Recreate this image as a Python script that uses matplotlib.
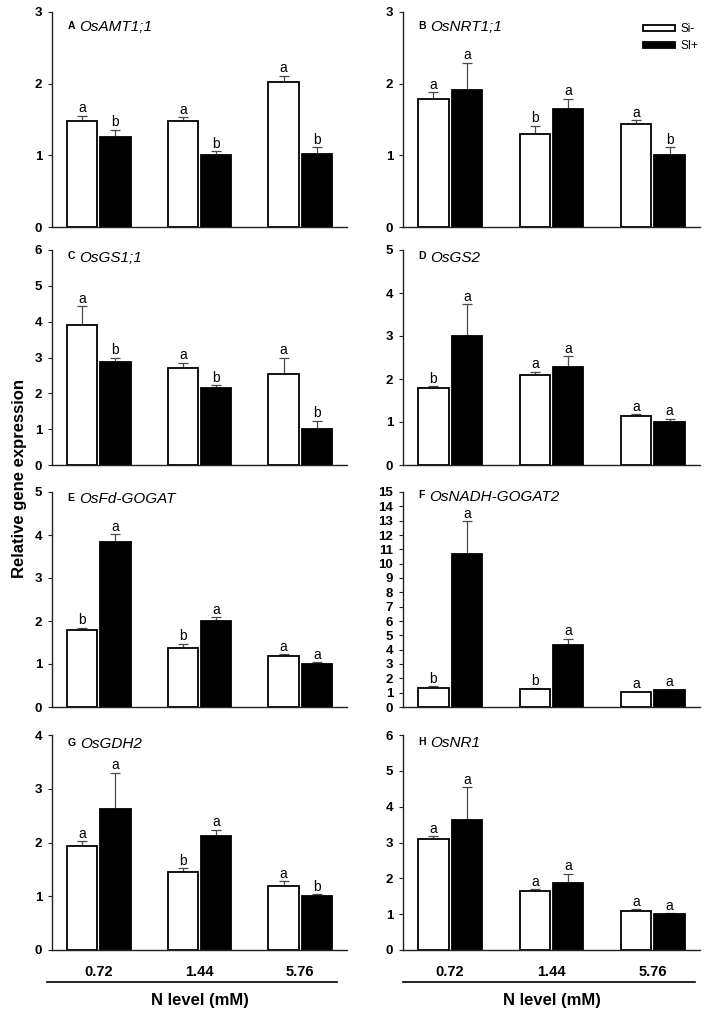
"""Relative expression of N-metabolism genes under Si- / Si+ at three N levels."""

import matplotlib
matplotlib.use("Agg")
import matplotlib.pyplot as plt
import numpy as np
from matplotlib.patches import Patch

plt.rcParams["font.family"] = ["Liberation Sans", "DejaVu Sans"]

n_levels = ["0.72", "1.44", "5.76"]
panel_ids = ["A", "B", "C", "D", "E", "F", "G", "H"]
genes = ["OsAMT1;1", "OsNRT1;1", "OsGS1;1", "OsGS2",
         "OsFd-GOGAT", "OsNADH-GOGAT2", "OsGDH2", "OsNR1"]
y_top = [3, 3, 6, 5, 5, 15, 4, 6]

si_minus_mean = [
    [1.48, 1.48, 2.03],
    [1.79, 1.30, 1.44],
    [3.90, 2.70, 2.53],
    [1.79, 2.09, 1.15],
    [1.79, 1.37, 1.18],
    [1.34, 1.25, 1.04],
    [1.93, 1.46, 1.19],
    [3.09, 1.64, 1.08],
]
si_minus_err = [
    [0.07, 0.05, 0.08],
    [0.09, 0.11, 0.05],
    [0.53, 0.16, 0.47],
    [0.04, 0.08, 0.03],
    [0.05, 0.10, 0.05],
    [0.12, 0.07, 0.02],
    [0.09, 0.06, 0.09],
    [0.09, 0.06, 0.06],
]
si_plus_mean = [
    [1.26, 1.01, 1.02],
    [1.91, 1.65, 1.01],
    [2.88, 2.16, 1.00],
    [3.01, 2.28, 1.00],
    [3.84, 2.01, 1.01],
    [10.64, 4.34, 1.18],
    [2.62, 2.13, 1.01],
    [3.62, 1.87, 1.00],
]
si_plus_err = [
    [0.10, 0.05, 0.09],
    [0.38, 0.14, 0.10],
    [0.11, 0.06, 0.23],
    [0.73, 0.25, 0.08],
    [0.18, 0.08, 0.03],
    [2.32, 0.41, 0.03],
    [0.68, 0.11, 0.03],
    [0.92, 0.26, 0.02],
]
si_minus_letters = ["aaa", "aba", "aaa", "baa", "bba", "bba", "aba", "aaa"]
si_plus_letters = ["bbb", "aab", "bbb", "aaa", "aaa", "aaa", "aab", "aaa"]

fig = plt.figure(figsize=(7.08, 10.15), dpi=100)

col_x = [52 / 708, 403 / 708]
col_w = [295 / 708, 297 / 708]
row_bottom = [227, 465, 707, 950]
ax_h = 215 / 1015
# baseline of the gene name in each panel (axes fraction)
title_y = [0.913, 0.913, 0.946, 0.946, 0.948, 0.96, 0.941, 0.944]

x = np.arange(3)
bw = 0.3
off = 0.165
err_kw = dict(fmt="none", ecolor="#4a4a4a", elinewidth=0.9, capsize=3.5, capthick=0.9)

for i in range(8):
    row, col = divmod(i, 2)
    ax = fig.add_axes([col_x[col], 1 - row_bottom[row] / 1015, col_w[col], ax_h])

    m1 = np.array(si_minus_mean[i])
    e1 = np.array(si_minus_err[i])
    m2 = np.array(si_plus_mean[i])
    e2 = np.array(si_plus_err[i])

    ax.bar(x - off, m1, bw, color="white", edgecolor="black", linewidth=1.3, zorder=2)
    ax.bar(x + off, m2, bw, color="black", edgecolor="black", linewidth=1.3, zorder=2)
    ax.errorbar(x - off, m1, yerr=[np.zeros(3), e1], zorder=1, **err_kw)
    ax.errorbar(x + off, m2, yerr=[np.zeros(3), e2], zorder=1, **err_kw)

    for j in range(3):
        ax.annotate(si_minus_letters[i][j], (x[j] - off, m1[j] + e1[j]),
                    xytext=(0, 2.5), textcoords="offset points",
                    ha="center", va="baseline", fontsize=10)
        ax.annotate(si_plus_letters[i][j], (x[j] + off, m2[j] + e2[j]),
                    xytext=(0, 2.5), textcoords="offset points",
                    ha="center", va="baseline", fontsize=10)

    ax.set_xlim(-0.465, 2.465)
    ax.set_ylim(0, y_top[i])
    ax.set_yticks(np.arange(0, y_top[i] + 1, 1))
    for s in ["top", "right"]:
        ax.spines[s].set_visible(False)
    for s in ["left", "bottom"]:
        ax.spines[s].set_linewidth(1.0)
        ax.spines[s].set_color("#222222")
    ax.tick_params(axis="y", direction="out", length=3, width=0.8, pad=4,
                   labelsize=9.5, color="#222222")
    for lab in ax.get_yticklabels():
        lab.set_fontweight("bold")

    if row == 3:
        ax.set_xticks(x)
        ax.set_xticklabels(n_levels, fontsize=10.5, fontweight="bold")
        ax.tick_params(axis="x", length=0, pad=11)
        x0, x1 = (-0.017, 0.966) if col == 0 else (0.0, 0.983)
        ax.plot([x0, x1], [-0.149, -0.149], transform=ax.transAxes,
                color="black", linewidth=1.2, clip_on=False)
        ax.text(0.5, -0.233, "N level (mM)", transform=ax.transAxes,
                ha="center", va="center", fontsize=12, fontweight="bold")
    else:
        ax.set_xticks([])

    tag = ax.text(0.053, title_y[i] + 0.01, panel_ids[i], transform=ax.transAxes,
                  fontsize=7.5, fontweight="bold", va="baseline", ha="left")
    ax.annotate(genes[i], xy=(1, title_y[i]), xycoords=(tag, "axes fraction"),
                xytext=(3, 0), textcoords="offset points",
                fontsize=11, fontstyle="italic", va="baseline", ha="left")

    if i == 1:
        handles = [Patch(facecolor="white", edgecolor="black", linewidth=1.3),
                   Patch(facecolor="black", edgecolor="black", linewidth=1.3)]
        ax.legend(handles, ["Si-", "SI+"], loc="upper left",
                  bbox_to_anchor=(643 / 708, 1 - 23 / 1015),
                  bbox_transform=fig.transFigure, frameon=False, fontsize=8.5,
                  handlelength=2.7, handleheight=0.42, handletextpad=0.5,
                  labelspacing=0.42, borderpad=0, borderaxespad=0)

fig.text(20 / 708, 1 - 478 / 1015, "Relative gene expression", rotation=90,
         ha="center", va="center", fontsize=12, fontweight="bold")

fig.savefig("out.png", dpi=100)
